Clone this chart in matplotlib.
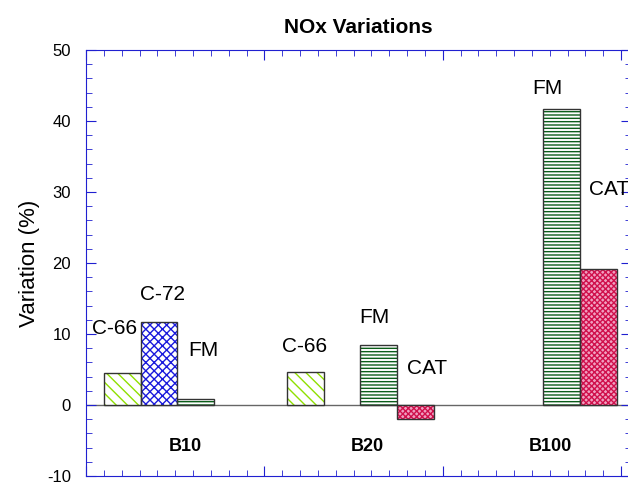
import numpy as np
import matplotlib
matplotlib.use("Agg")
import matplotlib.pyplot as plt
from matplotlib.ticker import MultipleLocator

plt.rcParams['font.family'] = ['Liberation Sans', 'DejaVu Sans']
plt.rcParams['axes.unicode_minus'] = False

groups = ['B10', 'B20', 'B100']
series = ['C-66', 'C-72', 'FM', 'CAT']
# nan = bar not present in that group
values = {
    'C-66': [4.5, 4.6, np.nan],
    'C-72': [11.7, np.nan, np.nan],
    'FM': [0.9, 8.4, 41.7],
    'CAT': [np.nan, -2.0, 19.1],
}
# label positions (x offset inside group, y value) for each shown bar
label_pos = {
    ('B10', 'C-66'): (0.058, 10.8), ('B10', 'C-72'): (0.32, 15.5), ('B10', 'FM'): (0.54, 7.7),
    ('B20', 'C-66'): (0.097, 8.2), ('B20', 'FM'): (0.474, 12.3), ('B20', 'CAT'): (0.763, 5.2),
    ('B100', 'FM'): (0.42, 44.6), ('B100', 'CAT'): (0.76, 30.3),
}

styles = {
    'C-66': dict(hatch='\\\\\\', color='#8fe000', face='white'),
    'C-72': dict(hatch='xxxx', color='#1a1adc', face='white'),
    'FM': dict(hatch='-----', color='#0b5e1a', face='white'),
    'CAT': dict(hatch='xxxxxx', color='#d0104c', face='#f0a0c0'),
}

width = 0.2
fig = plt.figure(figsize=(6.28, 4.82), dpi=100)
ax = fig.add_axes([0.137, 0.0124, 0.868, 0.8838])

for j, s in enumerate(series):
    for i, g in enumerate(groups):
        v = values[s][i]
        if np.isnan(v):
            continue
        x = i + j * width
        st = styles[s]
        ax.bar(x, v, width, align='edge', facecolor=st['face'], edgecolor=st['color'],
               hatch=st['hatch'], linewidth=0, zorder=2)
        ax.bar(x, v, width, align='edge', fill=False, edgecolor='#333333',
               linewidth=1.0, zorder=3)
        lx, ly = label_pos[(g, s)]
        ax.text(i + lx, ly, s, fontsize=15, ha='center', va='center')

ax.axhline(0, color='#666666', linewidth=1.0, zorder=1)

for i, g in enumerate(groups):
    ax.text(i + 0.44, -5.8, g, fontsize=13, fontweight='bold', ha='center', va='center')

ax.set_xlim(-0.1, 2.88)
ax.set_ylim(-10, 50)
ax.yaxis.set_major_locator(MultipleLocator(10))
ax.yaxis.set_minor_locator(MultipleLocator(2))
ax.set_xticks(-0.1 + np.arange(0, 4) * 0.975)
ax.set_xticks(-0.1 + np.arange(0, 31) * 0.0975, minor=True)
ax.set_xticklabels([])

for sp in ax.spines.values():
    sp.set_color('#2020d0')
ax.tick_params(which='both', direction='in', colors='#2020d0', top=True, right=True,
               labelcolor='black', labelsize=12)
ax.tick_params(which='major', length=7, pad=11)
ax.tick_params(which='minor', length=4)

ax.set_ylabel('Variation (%)', fontsize=16, labelpad=5)
ax.set_title('NOx Variations', fontsize=15, fontweight='bold', pad=12)

fig.savefig('out.png', dpi=100)
